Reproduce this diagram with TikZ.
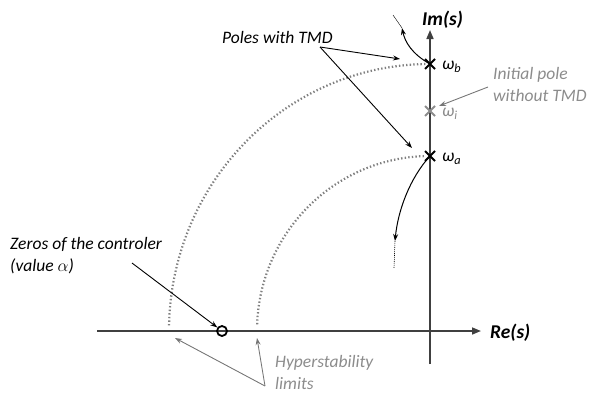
\documentclass[tikz,border=0pt]{standalone}
\usepackage{fontspec}
\setmainfont{Carlito}
\usepackage{tikz}
\usetikzlibrary{arrows.meta,positioning,calc}
\usepackage{xcolor}
\definecolor{axisgray}{HTML}{404040}
\definecolor{lightgray}{HTML}{8C8C8C}
\definecolor{dotgray}{HTML}{808080}

\begin{document}
\begin{tikzpicture}[
  x=1pt,y=-1pt,
  lab/.style={font=\fontsize{17.5}{22}\selectfont\itshape,inner sep=0pt,align=left},
  axlab/.style={font=\fontsize{19.5}{22}\selectfont\bfseries\itshape,inner sep=0pt},
  note/.style={lab,text=lightgray},
  axis/.style={-{Triangle[length=9pt,width=7pt]},line width=1.6pt,draw=axisgray},
  arr/.style={-{Stealth[length=7pt,width=5pt]},line width=0.9pt},
  garr/.style={arr,draw=lightgray!85!black},
  limit/.style={draw=dotgray,line width=2.2pt,dash pattern=on 1.4pt off 2.2pt},
  locus/.style={-{Stealth[length=7pt,width=5pt]},line width=1pt},
  cross/.style={line width=1.8pt}
]
\useasboundingbox (0,0) rectangle (592,394);
% axes
\coordinate (o) at (430,331);
\coordinate (xs) at (97,331);
\coordinate (xe) at (481,331);
\coordinate (ys) at (430,364);
\coordinate (ye) at (430,30);
\draw[axis] (xs) -- (xe);
\draw[axis] (ys) -- (ye);
\node[axlab,anchor=base west] (re) at (490,338) {Re(s)};
\node[axlab,anchor=base west] (im) at (422,25) {Im(s)};

% hyperstability limits
\draw[limit] ($(o)+(-91:261 and 267)$) arc[start angle=-91,end angle=-178.8,x radius=261,y radius=267];
\draw[limit] ($(o)+(-92:173 and 175)$) arc[start angle=-92,end angle=-178,x radius=173,y radius=175];

% poles
\coordinate (wb) at (430,64);
\coordinate (wi) at (430,111);
\coordinate (wa) at (430,156);
\draw[cross] ($(wb)+(-5,-5)$) -- ($(wb)+(5,5)$) ($(wb)+(-5,5)$) -- ($(wb)+(5,-5)$);
\draw[cross] ($(wa)+(-5,-5)$) -- ($(wa)+(5,5)$) ($(wa)+(-5,5)$) -- ($(wa)+(5,-5)$);
\draw[cross,draw=lightgray] ($(wi)+(-5,-5)$) -- ($(wi)+(5,5)$) ($(wi)+(-5,5)$) -- ($(wi)+(5,-5)$);
\node[lab,anchor=west] (lwb) at (442,67) {ω\textsubscript{b}};
\node[lab,anchor=west] (lwa) at (442,159) {ω\textsubscript{a}};
\node[note,anchor=west] (lwi) at (442,114) {ω\textsubscript{i}};

% root locus
\coordinate (tb) at (402,28);
\coordinate (ta) at (395,241);
\draw[locus] (wb) .. controls (412,54) and (405,42) .. (tb);
\draw[line width=0.4pt] (tb) -- (393,15);
\draw[locus] (wa) .. controls (410,178) and (398,210) .. (ta);
\draw[line width=0.6pt,dash pattern=on 1pt off 1pt] (ta) -- (394,268);

% zero
\node[draw,circle,line width=1.8pt,minimum size=10pt,inner sep=0pt] (zero) at (222,331) {};

% labels
\node[lab,anchor=base west] (poles) at (222,43) {Poles with TMD};
\coordinate (pf) at (320,47);
\draw[arr] (pf) -- (400,59);
\draw[arr] (pf) -- (412,148);

\node[note,anchor=north west] (init) at (493,67) {Initial pole\\without TMD};
\draw[garr] (488,87) -- (439,106);

\node[lab,anchor=north west] (zeros) at (10,237) {Zeros of the controler\\(value $\alpha$)};
\draw[arr] (132,263) -- (zero);

\node[note,anchor=north west] (hyper) at (275,355) {Hyperstability\\limits};
\coordinate (hf) at (265,386);
\draw[garr] (hf) -- (175,338);
\draw[garr] (hf) -- (257,338);
\end{tikzpicture}
\end{document}
